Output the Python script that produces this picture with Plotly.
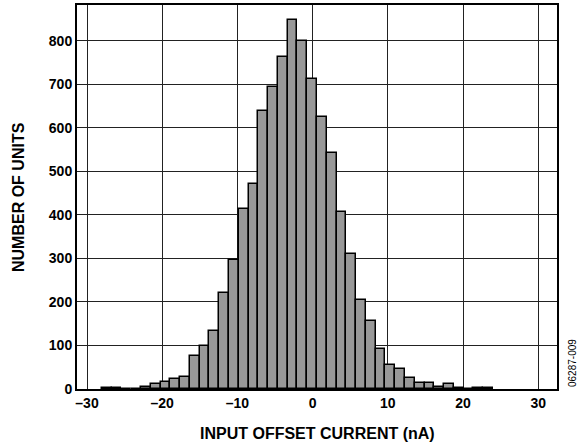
import plotly.graph_objects as go

# Bin centers (nA) and counts
bin_centers = [-27.37, -26.07, -24.77, -23.47, -22.17, -20.87, -19.57, -18.27,
               -16.97, -15.67, -14.37, -13.07, -11.77, -10.47, -9.17, -7.87,
               -6.57, -5.27, -3.97, -2.67, -1.37, -0.07, 1.23, 2.53, 3.83,
               5.13, 6.43, 7.73, 9.03, 10.33, 11.63, 12.93, 14.23, 15.53,
               16.83, 18.13, 19.43, 20.73, 22.03, 23.33]
counts = [3, 3, 0, 0, 5, 12, 15, 23, 28, 75, 98, 133, 221, 297, 414, 470,
          639, 694, 762, 848, 799, 711, 625, 541, 407, 309, 204, 157, 93, 56,
          45, 26, 14, 13, 5, 11, 2, 0, 2, 2]
bin_width = 1.3

x_tick_vals = [-30, -20, -10, 0, 10, 20, 30]
x_tick_text = ["–30", "–20", "–10", "0", "10", "20", "30"]
y_tick_vals = [0, 100, 200, 300, 400, 500, 600, 700, 800]

x_title = "INPUT OFFSET CURRENT (nA)"
y_title = "NUMBER OF UNITS"
code_label = "06287-009"

FONT = "Arial, Liberation Sans, sans-serif"

fig = go.Figure()
fig.add_trace(go.Bar(
    x=bin_centers, y=counts, width=bin_width,
    marker=dict(color="#999999", line=dict(color="#000000", width=1.5)),
    hoverinfo="skip",
))

fig.update_layout(
    width=584, height=447,
    margin=dict(l=77, r=27, t=5, b=58),
    paper_bgcolor="white", plot_bgcolor="white",
    showlegend=False, bargap=0,
    font=dict(family=FONT, color="black"),
)
fig.update_xaxes(
    range=[-31.33, 32.5], tickvals=x_tick_vals, ticktext=x_tick_text,
    tickfont=dict(family=FONT, size=14, color="black", weight="bold"),
    showgrid=True, gridcolor="#222222", gridwidth=1, zeroline=False,
    showline=True, mirror=True, linecolor="black", linewidth=2,
    ticks="", ticklen=0, automargin=False,
)
fig.update_yaxes(
    range=[0, 882], tickvals=y_tick_vals,
    tickfont=dict(family=FONT, size=14, color="black", weight="bold"),
    showgrid=True, gridcolor="#222222", gridwidth=1, zeroline=False,
    showline=True, mirror=True, linecolor="black", linewidth=2,
    ticks="", ticklen=0, automargin=False,
)
fig.add_annotation(
    text="<b>" + x_title + "</b>", xref="paper", yref="paper", x=0.5, y=0,
    xanchor="center", yanchor="middle", yshift=-44, showarrow=False,
    font=dict(family=FONT, size=16, color="black"),
)
fig.add_annotation(
    text="<b>" + y_title + "</b>", xref="paper", yref="paper", x=0, y=0.5,
    xanchor="center", yanchor="middle", xshift=-59, textangle=-90,
    showarrow=False, font=dict(family=FONT, size=16, color="black"),
)
fig.add_annotation(
    text=code_label, xref="paper", yref="paper", x=1, y=0,
    xanchor="center", yanchor="bottom", xshift=15, textangle=-90,
    showarrow=False, font=dict(family=FONT, size=10, color="black"),
)
fig.write_html(
    "out.html",
    config={"displayModeBar": False},
    post_script="document.body.style.margin='0';document.body.style.padding='0';"
                "document.body.style.overflow='hidden';",
)
